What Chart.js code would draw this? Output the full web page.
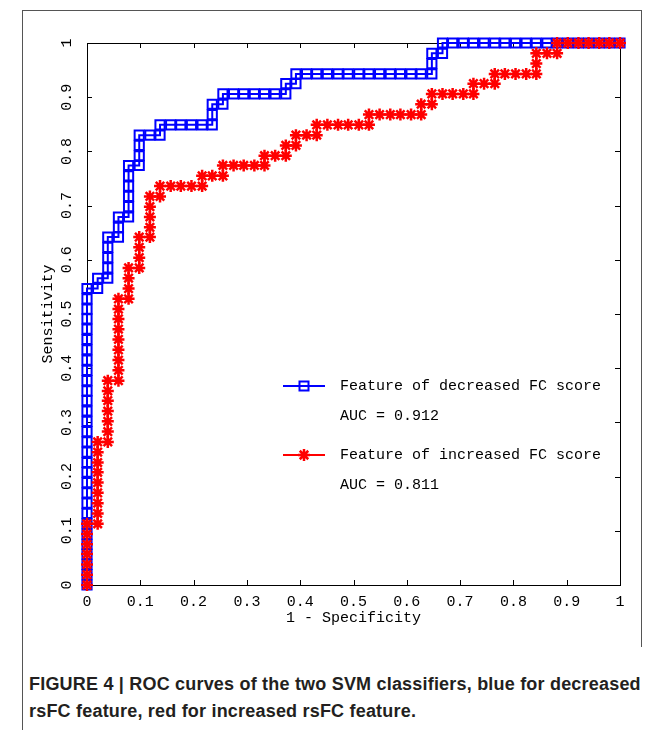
<!DOCTYPE html>
<html>
<head>
<meta charset="utf-8">
<title>ROC curves</title>
<script src="https://cdn.jsdelivr.net/npm/chart.js@4.4.1/dist/chart.umd.min.js"></script>
<style>
  html, body { margin: 0; padding: 0; background: #fff; }
  #wrap { position: relative; width: 668px; height: 730px; overflow: hidden; }
  #rocChart { position: absolute; left: 0; top: 0; }
  #frame { position: absolute; left: 22px; top: 10px; width: 618px; height: 636px;
           border: 1px solid #555; border-bottom: none; }
  #frameTail { position: absolute; left: 22px; top: 646px; height: 84px; border-left: 1px solid #555; }
  #caption { position: absolute; left: 29px; top: 671px; width: 660px; white-space: nowrap;
             font: bold 18px "Liberation Sans", Arial, sans-serif; letter-spacing: 0.2px;
             line-height: 27px; color: #231f20; }
</style>
</head>
<body>
<div id="wrap">
  <div id="frame"></div>
  <div id="frameTail"></div>
  <canvas id="rocChart" width="668" height="650"></canvas>
  <div id="caption">FIGURE 4 | ROC curves of the two SVM classifiers, blue for decreased<br>rsFC feature, red for increased rsFC feature.</div>
</div>
<script>
// 軸刻度
const tickValues = [0, 0.1, 0.2, 0.3, 0.4, 0.5, 0.6, 0.7, 0.8, 0.9, 1];
const tickLabels = ['0', '0.1', '0.2', '0.3', '0.4', '0.5', '0.6', '0.7', '0.8', '0.9', '1'];

// 藍線：decreased FC score (1 - specificity, sensitivity)
const decreasedFpr = [
  0, 0, 0, 0, 0, 0, 0, 0, 0, 0, 0, 0, 0, 0, 0, 0, 0, 0, 0, 0, 0, 0, 0, 0, 0, 0, 0, 0, 0, 0,
  0.020, 0.020,
  0.039, 0.039, 0.039, 0.039, 0.039,
  0.059, 0.059, 0.059,
  0.078, 0.078, 0.078, 0.078, 0.078, 0.078,
  0.098, 0.098, 0.098, 0.098,
  0.118,
  0.137, 0.137,
  0.157, 0.176, 0.196, 0.216,
  0.235, 0.235, 0.235,
  0.255, 0.255,
  0.275, 0.294, 0.314, 0.333, 0.353,
  0.373, 0.373,
  0.392, 0.392,
  0.412, 0.431, 0.451, 0.471, 0.490, 0.510, 0.529, 0.549, 0.569, 0.588, 0.608, 0.627,
  0.647, 0.647, 0.647,
  0.667, 0.667,
  0.686, 0.706, 0.725, 0.745, 0.765, 0.784, 0.804, 0.824, 0.843, 0.863, 0.882, 0.902, 0.922, 0.941, 0.961, 0.980, 1
];
const decreasedTpr = [
  0, 0.019, 0.038, 0.057, 0.075, 0.094, 0.113, 0.132, 0.151, 0.170, 0.189, 0.208, 0.226, 0.245, 0.264, 0.283, 0.302, 0.321, 0.340, 0.358, 0.377, 0.396, 0.415, 0.434, 0.453, 0.472, 0.491, 0.509, 0.528, 0.547,
  0.547, 0.566,
  0.566, 0.585, 0.604, 0.623, 0.642,
  0.642, 0.660, 0.679,
  0.679, 0.698, 0.717, 0.736, 0.755, 0.774,
  0.774, 0.792, 0.811, 0.830,
  0.830,
  0.830, 0.849,
  0.849, 0.849, 0.849, 0.849,
  0.849, 0.868, 0.887,
  0.887, 0.906,
  0.906, 0.906, 0.906, 0.906, 0.906,
  0.906, 0.925,
  0.925, 0.943,
  0.943, 0.943, 0.943, 0.943, 0.943, 0.943, 0.943, 0.943, 0.943, 0.943, 0.943, 0.943,
  0.943, 0.962, 0.981,
  0.981, 1,
  1, 1, 1, 1, 1, 1, 1, 1, 1, 1, 1, 1, 1, 1, 1, 1, 1
];

// 紅線：increased FC score
const increasedFpr = [
  0, 0, 0, 0, 0, 0, 0,
  0.020, 0.020, 0.020, 0.020, 0.020, 0.020, 0.020, 0.020, 0.020,
  0.039, 0.039, 0.039, 0.039, 0.039, 0.039, 0.039,
  0.059, 0.059, 0.059, 0.059, 0.059, 0.059, 0.059, 0.059, 0.059,
  0.078, 0.078, 0.078, 0.078,
  0.098, 0.098, 0.098, 0.098,
  0.118, 0.118, 0.118, 0.118, 0.118,
  0.137, 0.137,
  0.157, 0.176, 0.196,
  0.216, 0.216,
  0.235,
  0.255, 0.255,
  0.275, 0.294, 0.314,
  0.333, 0.333,
  0.353,
  0.373, 0.373,
  0.392, 0.392,
  0.412,
  0.431, 0.431,
  0.451, 0.471, 0.490, 0.510,
  0.529, 0.529,
  0.549, 0.569, 0.588, 0.608,
  0.627, 0.627,
  0.647, 0.647,
  0.667, 0.686, 0.706,
  0.725, 0.725,
  0.745,
  0.765, 0.765,
  0.784, 0.804, 0.824,
  0.843, 0.843, 0.843,
  0.863,
  0.882, 0.882,
  0.902, 0.922, 0.941, 0.961, 0.980, 1
];
const increasedTpr = [
  0, 0.019, 0.038, 0.057, 0.075, 0.094, 0.113,
  0.113, 0.132, 0.151, 0.170, 0.189, 0.208, 0.226, 0.245, 0.264,
  0.264, 0.283, 0.302, 0.321, 0.340, 0.358, 0.377,
  0.377, 0.396, 0.415, 0.434, 0.453, 0.472, 0.491, 0.509, 0.528,
  0.528, 0.547, 0.566, 0.585,
  0.585, 0.604, 0.623, 0.642,
  0.642, 0.660, 0.679, 0.698, 0.717,
  0.717, 0.736,
  0.736, 0.736, 0.736,
  0.736, 0.755,
  0.755,
  0.755, 0.774,
  0.774, 0.774, 0.774,
  0.774, 0.792,
  0.792,
  0.792, 0.811,
  0.811, 0.830,
  0.830,
  0.830, 0.849,
  0.849, 0.849, 0.849, 0.849,
  0.849, 0.868,
  0.868, 0.868, 0.868, 0.868,
  0.868, 0.887,
  0.887, 0.906,
  0.906, 0.906, 0.906,
  0.906, 0.925,
  0.925,
  0.925, 0.943,
  0.943, 0.943, 0.943,
  0.943, 0.962, 0.981,
  0.981,
  0.981, 1,
  1, 1, 1, 1, 1, 1
];

const seriesNames = ['Feature of decreased FC score', 'Feature of increased FC score'];
const aucLabels = ['AUC = 0.912', 'AUC = 0.811'];

const monoFont = { family: '"Liberation Mono", "DejaVu Sans Mono", monospace', size: 15 };
const fontStr = '15px "Liberation Mono", "DejaVu Sans Mono", monospace';

function toPoints(xs, ys) {
  return xs.map((x, i) => ({ x: x, y: ys[i] }));
}

// 外框與向內的刻度線
const framePlugin = {
  id: 'frame',
  beforeDatasetsDraw(chart) {
    const { ctx, chartArea: a, scales } = chart;
    ctx.save();
    ctx.strokeStyle = '#000';
    ctx.lineWidth = 1;
    ctx.strokeRect(a.left + 0.5, a.top + 0.5, a.right - a.left, a.bottom - a.top);
    ctx.beginPath();
    tickValues.forEach(v => {
      const px = Math.round(scales.x.getPixelForValue(v)) + 0.5;
      ctx.moveTo(px, a.bottom); ctx.lineTo(px, a.bottom - 5);
      ctx.moveTo(px, a.top); ctx.lineTo(px, a.top + 5);
      const py = Math.round(scales.y.getPixelForValue(v)) + 0.5;
      ctx.moveTo(a.left, py); ctx.lineTo(a.left + 5, py);
      ctx.moveTo(a.right, py); ctx.lineTo(a.right - 5, py);
    });
    ctx.stroke();
    ctx.restore();
  }
};

// 圖例（含 AUC）
const legendPlugin = {
  id: 'rocLegend',
  afterDraw(chart) {
    const ctx = chart.ctx;
    const rows = [
      { y: 386, color: '#0000ff', style: 'rect' },
      { y: 455, color: '#ff0000', style: 'star' }
    ];
    ctx.save();
    ctx.font = fontStr;
    ctx.textBaseline = 'middle';
    rows.forEach((r, i) => {
      ctx.strokeStyle = r.color;
      ctx.lineWidth = 2;
      ctx.beginPath();
      ctx.moveTo(283, r.y); ctx.lineTo(325, r.y);
      ctx.stroke();
      ctx.lineWidth = r.style === 'star' ? 2.5 : 2;
      ctx.beginPath();
      if (r.style === 'rect') {
        ctx.rect(299.5, r.y - 4.5, 9, 9);
      } else {
        for (let k = 0; k < 4; k++) {
          const ang = k * Math.PI / 4;
          ctx.moveTo(304 - 6 * Math.cos(ang), r.y - 6 * Math.sin(ang));
          ctx.lineTo(304 + 6 * Math.cos(ang), r.y + 6 * Math.sin(ang));
        }
      }
      ctx.stroke();
      ctx.fillStyle = '#000';
      ctx.fillText(seriesNames[i], 340, r.y);
      ctx.fillText(aucLabels[i], 340, r.y + 30);
    });
    ctx.restore();
  }
};

const ctx = document.getElementById('rocChart').getContext('2d');
new Chart(ctx, {
  type: 'line',
  data: {
    datasets: [{
      label: seriesNames[0],
      data: toPoints(decreasedFpr, decreasedTpr),
      borderColor: '#0000ff',
      borderWidth: 2,
      pointStyle: 'rect',
      pointRadius: 6.5,
      pointBorderWidth: 2,
      pointBorderColor: '#0000ff',
      pointBackgroundColor: 'rgba(0,0,0,0)',
      fill: false,
      tension: 0,
      clip: false,
      order: 1
    }, {
      label: seriesNames[1],
      data: toPoints(increasedFpr, increasedTpr),
      borderColor: '#ff0000',
      borderWidth: 2,
      pointStyle: 'star',
      pointRadius: 6,
      pointBorderWidth: 2.5,
      pointBorderColor: '#ff0000',
      pointBackgroundColor: '#ff0000',
      fill: false,
      tension: 0,
      clip: false,
      order: 0
    }]
  },
  options: {
    responsive: false,
    animation: false,
    layout: { padding: { left: 0, top: 43, right: 48, bottom: 0 } },
    plugins: {
      legend: { display: false },
      tooltip: { enabled: false }
    },
    scales: {
      x: {
        type: 'linear',
        min: 0,
        max: 1,
        grid: { display: false, drawTicks: false },
        border: { display: false },
        afterBuildTicks: scale => { scale.ticks = tickValues.map(v => ({ value: v })); },
        afterFit: scale => { scale.height = 65; },
        ticks: {
          font: monoFont,
          color: '#000',
          padding: 8,
          maxRotation: 0,
          autoSkip: false,
          callback: (v, i) => tickLabels[i]
        },
        title: {
          display: true,
          text: '1 - Specificity',
          font: monoFont,
          color: '#000',
          padding: { top: 0, bottom: 23 }
        }
      },
      y: {
        type: 'linear',
        min: 0,
        max: 1,
        grid: { display: false, drawTicks: false },
        border: { display: false },
        afterBuildTicks: scale => { scale.ticks = tickValues.map(v => ({ value: v })); },
        afterFit: scale => { scale.width = 87; },
        ticks: {
          font: monoFont,
          color: '#000',
          padding: 6,
          minRotation: 90,
          maxRotation: 90,
          crossAlign: 'center',
          autoSkip: false,
          callback: (v, i) => tickLabels[i]
        },
        title: {
          display: true,
          text: 'Sensitivity',
          font: monoFont,
          color: '#000',
          padding: { top: 39, bottom: 0 }
        }
      }
    }
  },
  plugins: [framePlugin, legendPlugin]
});
</script>
</body>
</html>
